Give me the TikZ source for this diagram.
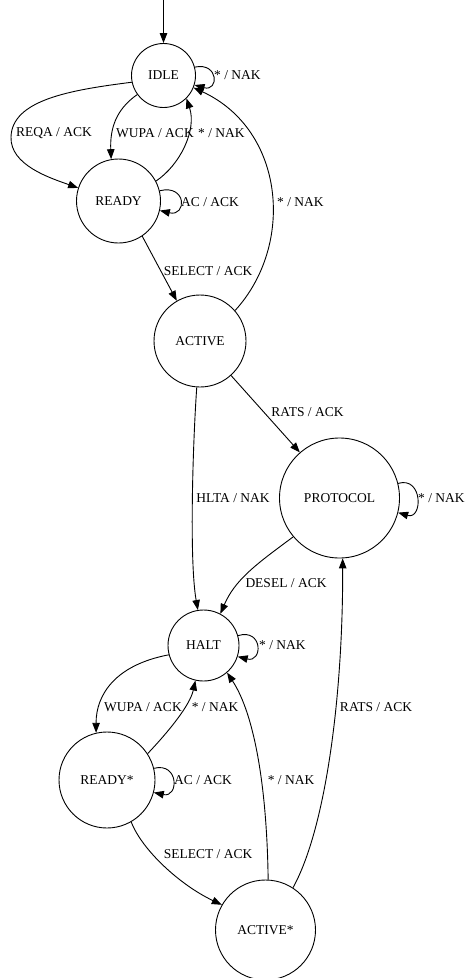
\documentclass[tikz,border=0pt]{standalone}
\usepackage{fontspec}
\setmainfont{Liberation Serif}
\usetikzlibrary{arrows.meta}
\begin{document}
\begin{tikzpicture}[x=1bp,y=-1bp,
  state/.style={draw,circle,inner sep=0pt,line width=0.9bp,font=\fontsize{13.5bp}{16bp}\selectfont},
  lbl/.style={inner sep=0pt,font=\fontsize{13.5bp}{16bp}\selectfont},
  edge/.style={line width=0.9bp,-{Triangle[length=10bp,width=7.5bp]}}]
\useasboundingbox[fill=white] (0,0) rectangle (465,978);
% states
\node[state,minimum size=64bp] (idle) at (163.5,75.5) {IDLE};
\node[state,minimum size=84bp] (ready) at (118.5,201) {READY};
\node[state,minimum size=92bp] (active) at (200,341) {ACTIVE};
\node[state,minimum size=120bp] (protocol) at (339.5,498) {PROTOCOL};
\node[state,minimum size=71bp] (halt) at (203.5,645.5) {HALT};
\node[state,minimum size=96bp] (readys) at (107,780) {READY*};
\node[state,minimum size=100bp] (actives) at (265.5,930) {ACTIVE*};
\coordinate (start) at (163.5,0);
% start
\draw[edge] (start) -- (idle.north);
% IDLE
\draw[edge] (idle.15) .. controls (219,62) and (219,92) .. (idle.-17);
\node[lbl,anchor=west] (l1) at (214,75) {* / NAK};
\draw[edge] (idle.192) .. controls (70,90) and (12,100) .. (11,137) .. controls (10,165) and (50,178) .. (ready.162);
\node[lbl] (l2) at (54,133) {REQA / ACK};
\draw[edge] (idle.216) .. controls (115,110) and (110,130) .. (ready.100);
\node[lbl] (l3) at (155,133) {WUPA / ACK};
\draw[edge] (ready.28) .. controls (180,165) and (197,130) .. (idle.-45);
\node[lbl,anchor=west] (l4) at (198,133) {* / NAK};
\draw[edge] (ready.14) .. controls (187,184) and (187,217) .. (ready.-13);
\node[lbl,anchor=west] (l5) at (181,202) {AC / ACK};
\draw[edge] (ready.-56) -- (active.120);
\node[lbl] (l6) at (208,271) {SELECT / ACK};
% ACTIVE
\draw[edge] (active.41) .. controls (295,245) and (285,130) .. (idle.-22);
\node[lbl,anchor=west] (l7) at (277,202) {* / NAK};
\draw[edge] (active.-48) -- (protocol.131);
\node[lbl] (l8) at (307.5,412) {RATS / ACK};
\draw[edge] (active.266) .. controls (193,440) and (189,560) .. (halt.99);
\node[lbl] (l9) at (233,498) {HLTA / NAK};
% PROTOCOL
\draw[edge] (protocol.14) .. controls (423,476) and (423,520) .. (protocol.-14);
\node[lbl,anchor=west] (l10) at (418,498) {* / NAK};
\draw[edge] (protocol.220) .. controls (255,565) and (235,580) .. (halt.62);
\node[lbl] (l11) at (286,583) {DESEL / ACK};
% HALT
\draw[edge] (halt.16) .. controls (263,628) and (263,663) .. (halt.-18);
\node[lbl,anchor=west] (l12) at (259,645) {* / NAK};
\draw[edge] (halt.195) .. controls (115,665) and (96,695) .. (readys.103);
\node[lbl] (l13) at (143,707) {WUPA / ACK};
\draw[edge] (readys.33) .. controls (170,730) and (190,705) .. (halt.-103);
\node[lbl] (l14) at (215,707) {* / NAK};
% READY*
\draw[edge] (readys.14) .. controls (179,762) and (179,798) .. (readys.-15);
\node[lbl,anchor=west] (l15) at (174,780) {AC / ACK};
\draw[edge] (readys.-60) .. controls (142,850) and (180,885) .. (actives.150);
\node[lbl] (l16) at (208,854) {SELECT / ACK};
% ACTIVE*
\draw[edge] (actives.87) .. controls (267,790) and (255,715) .. (halt.-49);
\node[lbl] (l17) at (291,780) {* / NAK};
\draw[edge] (actives.57) .. controls (325,830) and (343,700) .. (protocol.-87);
\node[lbl] (l18) at (376,707) {RATS / ACK};
\end{tikzpicture}
\end{document}
